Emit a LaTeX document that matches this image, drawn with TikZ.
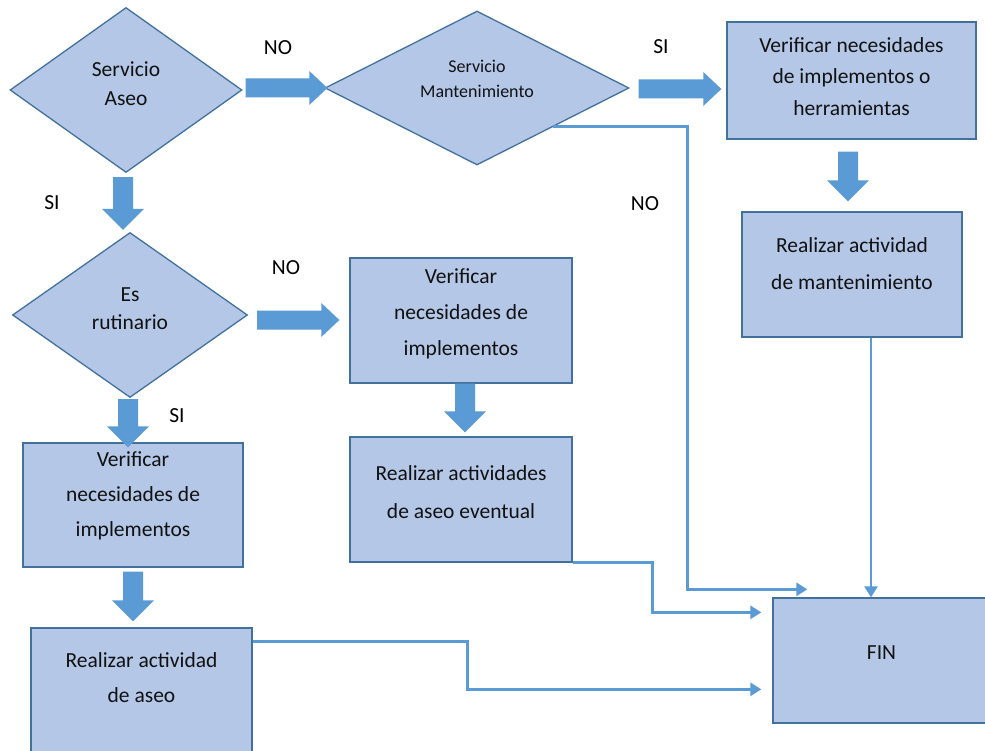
\documentclass[tikz,border=0pt]{standalone}
\usepackage{fontspec}
\setmainfont{Carlito}
\usetikzlibrary{shapes.geometric,arrows.meta,calc}
\definecolor{boxfill}{HTML}{B4C7E7}
\definecolor{boxline}{HTML}{41719C}
\definecolor{arrowfill}{HTML}{5B9BD5}
\definecolor{txtc}{HTML}{111111}
\newcommand\dpt[1]{\rule[-#1]{0pt}{#1}}
\newcommand\blkR[2]{\fill[arrowfill] let \p1=(#1), \p2=(#2) in
 (\x1,\y1+9.5pt) -- (\x2-18pt,\y1+9.5pt) -- (\x2-18pt,\y1+17pt) -- (\x2,\y1) -- (\x2-18pt,\y1-17pt) -- (\x2-18pt,\y1-9.5pt) -- (\x1,\y1-9.5pt) -- cycle;}
\newcommand\blkD[2]{\fill[arrowfill] let \p1=(#1), \p2=(#2) in
 (\x1-10pt,\y1) -- (\x1-10pt,\y2+21pt) -- (\x1-21pt,\y2+21pt) -- (\x1,\y2) -- (\x1+21pt,\y2+21pt) -- (\x1+10pt,\y2+21pt) -- (\x1+10pt,\y1) -- cycle;}
\begin{document}
\begin{tikzpicture}[x=1pt,y=-1pt,
  box/.style={draw=boxline, fill=boxfill, line width=1.3pt, align=center, text=txtc, inner sep=0pt, font=\fontsize{21.5}{37}\selectfont},
  dia/.style={diamond, draw=boxline, fill=boxfill, line width=1.3pt, align=center, text=txtc, inner sep=0pt, font=\fontsize{21.5}{29}\selectfont},
  conn/.style={draw=arrowfill, line width=2.8pt, -{Triangle[length=11pt,width=13pt]}},
  lbl/.style={font=\fontsize{21.5}{26}\selectfont, text=black, inner sep=0pt}
]
\useasboundingbox (0,0) rectangle (985,751);
\fill[white] (0,0) rectangle (985,751);

% decisions
\node[dia, minimum width=232pt, minimum height=165pt] (d1) at (126,90) {Servicio\\Aseo\dpt{12pt}};
\node[dia, aspect=2, minimum width=304pt, minimum height=154pt, font=\fontsize{18}{25}\selectfont] (d2) at (477,88) {Servicio\\Mantenimiento\dpt{18pt}};
\node[dia, minimum width=235pt, minimum height=165pt, font=\fontsize{21.5}{28}\selectfont] (d3) at (130,315) {Es\\rutinario\dpt{12pt}};

% process boxes
\node[box, minimum width=249pt, minimum height=117pt, font=\fontsize{21.5}{31.5}\selectfont] (vh) at (851.5,80.5) {Verificar necesidades\\de implementos o\\herramientas\dpt{8pt}};
\node[box, minimum width=220pt, minimum height=125pt] (rm) at (852,274.5) {Realizar actividad\\de mantenimiento\dpt{21pt}};
\node[box, minimum width=222pt, minimum height=125pt, font=\fontsize{21.5}{36}\selectfont] (vm) at (461,320.5) {Verificar\\necesidades de\\implementos\dpt{17pt}};
\node[box, minimum width=222pt, minimum height=125pt, font=\fontsize{21.5}{38}\selectfont] (ev) at (461,499.5) {Realizar actividades\\de aseo eventual\dpt{15pt}};
\node[box, minimum width=220pt, minimum height=124pt, font=\fontsize{21.5}{35}\selectfont] (vl) at (133,505) {Verificar\\necesidades de\\implementos\dpt{21pt}};
\node[box, minimum width=221pt, minimum height=132pt, font=\fontsize{21.5}{35}\selectfont] (as) at (141.5,694) {Realizar actividad\\de aseo\dpt{32pt}};
\node[box, minimum width=225pt, minimum height=125pt] (fin) at (885.5,660.5) {\hspace*{-8pt}FIN\dpt{15pt}};

% block arrows
\blkR{[xshift=3pt,yshift=2pt]d1.east}{[xshift=3pt]d2.west}
\blkR{[xshift=9pt,yshift=-1pt]d2.east}{[xshift=-5pt]vh.west}
\blkR{[xshift=9pt,yshift=-5pt]d3.east}{[xshift=-10pt]vm.west}
\blkD{[xshift=-3pt,yshift=-4pt]d1.south}{[yshift=2pt]d3.north}
\blkD{[xshift=-2pt,yshift=-1pt]d3.south}{[yshift=-5pt]vl.north}
\blkD{[yshift=-4pt]vl.south}{[yshift=6pt]as.north}
\blkD{[xshift=4pt]vm.south}{[yshift=4pt]ev.north}
\blkD{[xshift=-3.5pt,yshift=-12pt]vh.south}{[yshift=10pt]rm.north}

% connectors to FIN
\draw[conn] (d2.south east) -| ($(fin.north west)+(-85,-8)$) -- ($(fin.north west)+(35,-8)$);
\draw[conn] ([xshift=19pt]rm.south) -- ([xshift=19pt]rm.south |- fin.north);
\draw[conn] (ev.south east) -| ($(fin.north west)+(-120,15)$) -- ($(fin.north west)+(-11,15)$);
\draw[conn] ([yshift=-14pt]as.north east) -| ($(fin.north west)+(-305,92)$) -- ($(fin.north west)+(-11,92)$);

% labels
\node[lbl] (l1) at (278,48) {NO};
\node[lbl] (l2) at (52,203) {SI};
\node[lbl] (l3) at (661,47) {SI};
\node[lbl] (l4) at (645,204) {NO};
\node[lbl] (l5) at (286,268) {NO};
\node[lbl] (l6) at (177,416) {SI};
\end{tikzpicture}
\end{document}
